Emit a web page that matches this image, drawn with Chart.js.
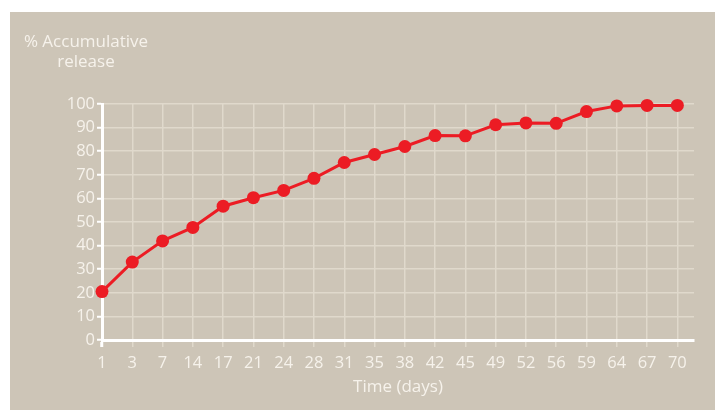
<!DOCTYPE html>
<html>
<head>
<meta charset="utf-8">
<script src="https://cdn.jsdelivr.net/npm/chart.js@4/dist/chart.umd.min.js"></script>
<style>
  body { margin: 0; background: #fff; }
  #panel { position: absolute; left: 10px; top: 12px; width: 705px; height: 398px; background: #cdc5b7; }
</style>
</head>
<body>
<div id="panel"><canvas id="myChart" width="705" height="398"></canvas></div>
<script>
const days = ['1', '3', '7', '14', '17', '21', '24', '28', '31', '35', '38', '42', '45', '49', '52', '56', '59', '64', '67', '70']
const release = [20.5, 33, 42, 47.7, 56.7, 60.3, 63.4, 68.5, 75.2, 78.6, 82, 86.6, 86.5, 91.2, 92, 91.8, 96.8, 99.2, 99.4, 99.4]
const yTicks = [0, 10, 20, 30, 40, 50, 60, 70, 80, 90, 100]

const textColor = '#f6f2eb'
const gridColor = '#e0d9cc'
const red = '#ec1c24'

// two-line label above the y axis
const yLabel = {
    id: 'yLabel',
    afterDraw(chart) {
        const c = chart.ctx
        c.save()
        c.fillStyle = textColor
        c.font = '17px "Open Sans"'
        c.textAlign = 'center'
        c.textBaseline = 'middle'
        c.fillText('% Accumulative', 76, 30)
        c.fillText('release', 76, 50)
        c.restore()
    }
}

const ctx = document.getElementById('myChart')

new Chart(ctx, {
    type: 'line',
    data: {
        datasets: [{
            label: '% Accumulative release',
            data: release.map((v, i) => ({ x: i, y: v })),
            borderColor: red,
            backgroundColor: red,
            borderWidth: 3,
            pointRadius: 6.5,
            pointHoverRadius: 6.5,
            pointBorderWidth: 0,
            tension: 0,
            clip: false,
        }]
    },
    options: {
        responsive: false,
        animation: false,
        layout: { padding: { top: 92, right: 21, left: 0, bottom: 0 } },
        scales: {
            x: {
                type: 'linear',
                min: 0,
                max: 19.55,
                afterBuildTicks: scale => {
                    scale.ticks = days.map((d, i) => ({ value: i }))
                },
                afterFit: scale => { scale.height = 70 },
                grid: {
                    color: gridColor,
                    lineWidth: 1.5,
                    tickLength: 7,
                    tickColor: c => c.index === 0 ? '#ffffff' : gridColor,
                    tickWidth: c => c.index === 0 ? 3 : 1.5,
                },
                border: { color: '#ffffff', width: 3 },
                ticks: {
                    color: textColor,
                    padding: 6,
                    maxRotation: 0,
                    autoSkip: false,
                    font: { size: 16.5, family: 'Open Sans' },
                    callback: v => days[v],
                },
                title: {
                    display: true,
                    text: 'Time (days)',
                    color: textColor,
                    font: { size: 17, family: 'Open Sans' },
                    padding: { top: 0, bottom: 13 },
                },
            },
            y: {
                min: 0,
                max: 100,
                afterBuildTicks: scale => {
                    scale.ticks = yTicks.map(v => ({ value: v }))
                },
                afterFit: scale => { scale.width = 92 },
                grid: {
                    color: gridColor,
                    lineWidth: 1.5,
                    tickLength: 5,
                    tickColor: '#ffffff',
                    tickWidth: 2,
                },
                border: { color: '#ffffff', width: 3 },
                ticks: {
                    color: textColor,
                    padding: 2,
                    font: { size: 16.5, family: 'Open Sans' },
                },
            },
        },
        plugins: {
            legend: { display: false },
            tooltip: { enabled: false },
        },
    },
    plugins: [yLabel],
})
</script>
</body>
</html>
